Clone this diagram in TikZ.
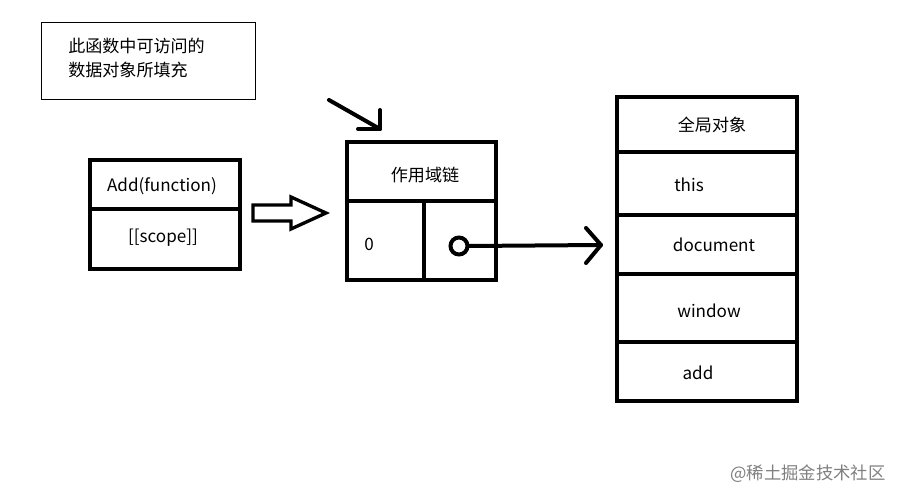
\documentclass[tikz,border=0pt]{standalone}
\usepackage{fontspec}
\setmainfont{Noto Sans CJK SC}
\begin{document}
\begin{tikzpicture}[x=0.75pt,y=-0.75pt,
  thick box/.style={line width=3pt},
  lbl/.style={font=\fontsize{12.8}{15}\selectfont, inner sep=0pt},
  ln/.style={line width=3pt, line cap=round, line join=round}]
\useasboundingbox[fill=white] (0,0) rectangle (904,502);
% note
\node[draw, line width=0.6pt, minimum width=214*0.75pt, minimum height=77*0.75pt, anchor=north west] (note) at (41,22) {};
\node[lbl, anchor=west, align=left] (notetext) at (68,58) {此函数中可访问的\\[3pt]数据对象所填充};
% Add box
\draw[thick box] (90,160) rectangle (240,269);
\draw[thick box] (90,209) -- (240,209);
\node[lbl] (addf) at (162,186) {Add(function)};
\node[lbl] (scope) at (163,238) {[[scope]]};
% hollow arrow
\draw[line width=2.5pt, line join=miter] (253,205) -- (291,205) -- (291,197) -- (326,213) -- (291,229) -- (291,221) -- (253,221) -- cycle;
% small arrow
\coordinate (sa1) at (329,100);
\coordinate (sa2) at (380,129);
\draw[ln] (sa1) -- (sa2);
\draw[ln] (358,129) -- (sa2) -- (380,110);
% scope chain
\draw[thick box] (347,142) rectangle (496,280);
\draw[thick box] (347,201) -- (496,201);
\draw[thick box] (424,201) -- (424,280);
\node[lbl] (chain) at (425,175) {作用域链};
\node[lbl] (zero) at (369,244) {0};
\node[circle, draw, line width=3pt, minimum size=17*0.75pt, inner sep=0pt] (ptr) at (459,246) {};
\coordinate (tip) at (601,245);
\draw[ln] (ptr.east) -- (tip);
\draw[ln] (586,228) -- (tip) -- (586,263);
% global object
\draw[thick box] (617,97) rectangle (797,401);
\foreach \yy in {152,215,274,342} \draw[thick box] (617,\yy) -- (797,\yy);
\node[lbl] (g) at (712,125) {全局对象};
\node[lbl] (this) at (689,185) {this};
\node[lbl] (doc) at (714,245) {document};
\node[lbl] (win) at (709,311) {window};
\node[lbl] (add) at (698,373) {add};
% watermark
\node[lbl, text=black!50, font=\fontsize{13}{15}\selectfont] (wm) at (808,474) {@稀土掘金技术社区};
\end{tikzpicture}
\end{document}
